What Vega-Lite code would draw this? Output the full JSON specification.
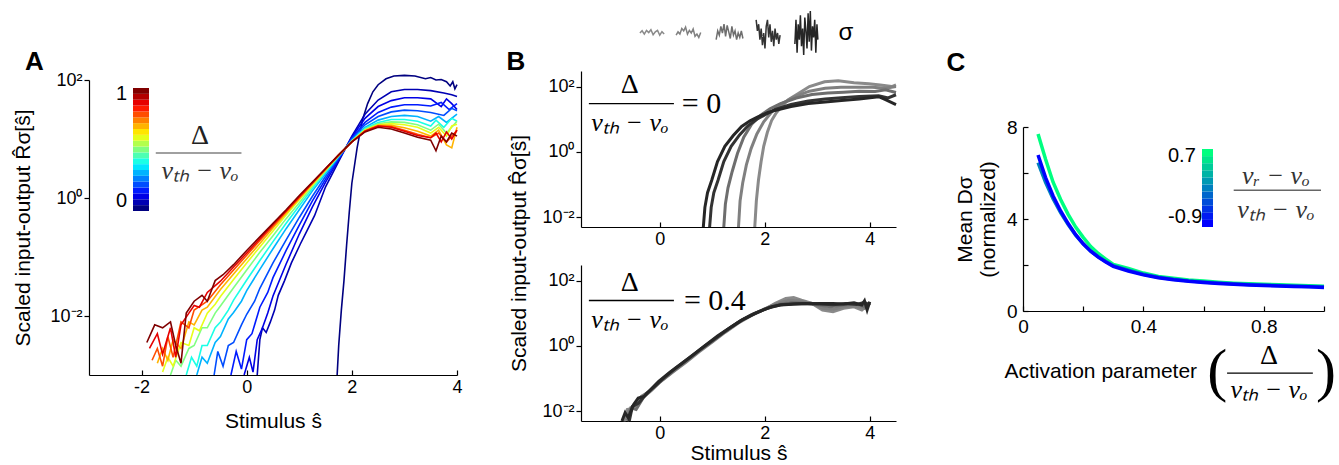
{
"$schema": "https://vega.github.io/schema/vega-lite/v6.json",
"padding": {"left": 12, "top": 8, "right": 0, "bottom": 0},
"background": "white",
"config": {
  "view": {"stroke": null},
  "font": "Liberation Sans",
  "axis": {"grid": false, "labelFlush": false, "domainColor": "#000", "tickColor": "#000", "labelColor": "#000", "titleColor": "#000", "labelFont": "Liberation Sans", "titleFont": "Liberation Sans", "labelFontSize": 18, "titleFontSize": 21, "titleFontWeight": "normal", "domainWidth": 1.2, "tickWidth": 1.2}
},
"spacing": 43,
"datasets": {
"a": [
{"d":0,"x":1.72,"y":0.001},{"d":0,"x":1.75,"y":0.00316},{"d":0,"x":1.8,"y":0.0126},{"d":0,"x":1.85,"y":0.0398},{"d":0,"x":1.9,"y":0.158},{"d":0,"x":1.95,"y":0.562},{"d":0,"x":2.0,"y":1.78},{"d":0,"x":2.1,"y":7.08},{"d":0,"x":2.2,"y":20.9},{"d":0,"x":2.3,"y":39.8},{"d":0,"x":2.4,"y":63.1},{"d":0,"x":2.5,"y":83.2},{"d":0,"x":2.65,"y":105},{"d":0,"x":2.8,"y":117},{"d":0,"x":3.0,"y":120},{"d":0,"x":3.2,"y":117},{"d":0,"x":3.4,"y":105},{"d":0,"x":3.5,"y":110},{"d":0,"x":3.6,"y":100},{"d":0,"x":3.7,"y":102},{"d":0,"x":3.8,"y":93.3},{"d":0,"x":3.87,"y":79.4},{"d":0,"x":3.92,"y":93.3},{"d":0,"x":3.96,"y":70.8},{"d":0,"x":4.0,"y":83.2},
{"d":0.05,"x":0.2,"y":0.001},{"d":0.05,"x":0.25,"y":0.00398},{"d":0.05,"x":0.3,"y":0.00631},{"d":0.05,"x":0.37,"y":0.00525},{"d":0.05,"x":0.45,"y":0.00794},{"d":0.05,"x":0.53,"y":0.0126},{"d":0.05,"x":0.6,"y":0.0224},{"d":0.05,"x":0.72,"y":0.0398},{"d":0.05,"x":0.85,"y":0.0794},{"d":0.05,"x":1.02,"y":0.166},{"d":0.05,"x":1.15,"y":0.282},{"d":0.05,"x":1.29,"y":0.501},{"d":0.05,"x":1.5,"y":1.55},{"d":0.05,"x":1.75,"y":4.17},{"d":0.05,"x":2.0,"y":11.2},{"d":0.05,"x":2.25,"y":26.3},{"d":0.05,"x":2.5,"y":45.7},{"d":0.05,"x":2.75,"y":63.1},{"d":0.05,"x":3.0,"y":69.2},{"d":0.05,"x":3.25,"y":69.2},{"d":0.05,"x":3.5,"y":66.1},{"d":0.05,"x":3.75,"y":60.3},{"d":0.05,"x":3.9,"y":56.2},{"d":0.05,"x":4.0,"y":52.5},
{"d":0.1,"x":-0.05,"y":0.001},{"d":0.1,"x":0.05,"y":0.002},{"d":0.1,"x":0.12,"y":0.00112},{"d":0.1,"x":0.2,"y":0.00398},{"d":0.1,"x":0.3,"y":0.00631},{"d":0.1,"x":0.4,"y":0.0112},{"d":0.1,"x":0.5,"y":0.0219},{"d":0.1,"x":0.75,"y":0.0759},{"d":0.1,"x":1.0,"y":0.245},{"d":0.1,"x":1.25,"y":0.708},{"d":0.1,"x":1.5,"y":1.86},{"d":0.1,"x":1.75,"y":4.47},{"d":0.1,"x":2.0,"y":10.7},{"d":0.1,"x":2.25,"y":22.4},{"d":0.1,"x":2.5,"y":35.5},{"d":0.1,"x":2.75,"y":44.7},{"d":0.1,"x":3.0,"y":50.1},{"d":0.1,"x":3.25,"y":50.1},{"d":0.1,"x":3.5,"y":47.9},{"d":0.1,"x":3.7,"y":35.5},{"d":0.1,"x":3.8,"y":47.9},{"d":0.1,"x":3.9,"y":39.8},{"d":0.1,"x":4.0,"y":31.6},
{"d":0.15,"x":-0.3,"y":0.001},{"d":0.15,"x":-0.2,"y":0.00251},{"d":0.15,"x":-0.1,"y":0.00126},{"d":0.15,"x":0,"y":0.00398},{"d":0.15,"x":0.1,"y":0.00501},{"d":0.15,"x":0.25,"y":0.0141},{"d":0.15,"x":0.4,"y":0.0251},{"d":0.15,"x":0.5,"y":0.0447},{"d":0.15,"x":0.75,"y":0.129},{"d":0.15,"x":1.0,"y":0.347},{"d":0.15,"x":1.25,"y":0.891},{"d":0.15,"x":1.5,"y":2.09},{"d":0.15,"x":1.75,"y":4.68},{"d":0.15,"x":2.0,"y":10.2},{"d":0.15,"x":2.25,"y":19.1},{"d":0.15,"x":2.5,"y":28.2},{"d":0.15,"x":2.75,"y":34.7},{"d":0.15,"x":3.0,"y":38.0},{"d":0.15,"x":3.25,"y":38.0},{"d":0.15,"x":3.5,"y":36.3},{"d":0.15,"x":3.7,"y":41.7},{"d":0.15,"x":3.85,"y":31.6},{"d":0.15,"x":4.0,"y":39.8},
{"d":0.2,"x":-0.62,"y":0.001},{"d":0.2,"x":-0.55,"y":0.00251},{"d":0.2,"x":-0.45,"y":0.00141},{"d":0.2,"x":-0.35,"y":0.00316},{"d":0.2,"x":-0.25,"y":0.00355},{"d":0.2,"x":-0.1,"y":0.00708},{"d":0.2,"x":0,"y":0.0107},{"d":0.2,"x":0.15,"y":0.0178},{"d":0.2,"x":0.25,"y":0.0295},{"d":0.2,"x":0.5,"y":0.0794},{"d":0.2,"x":0.75,"y":0.195},{"d":0.2,"x":1.0,"y":0.468},{"d":0.2,"x":1.25,"y":1.07},{"d":0.2,"x":1.5,"y":2.34},{"d":0.2,"x":1.75,"y":4.79},{"d":0.2,"x":2.0,"y":10},{"d":0.2,"x":2.25,"y":17.4},{"d":0.2,"x":2.5,"y":24.0},{"d":0.2,"x":2.75,"y":28.8},{"d":0.2,"x":3.0,"y":30.9},{"d":0.2,"x":3.25,"y":30.2},{"d":0.2,"x":3.5,"y":28.2},{"d":0.2,"x":3.75,"y":25.1},{"d":0.2,"x":3.9,"y":33.1},{"d":0.2,"x":4.0,"y":30.2},
{"d":0.3,"x":-0.95,"y":0.001},{"d":0.3,"x":-0.85,"y":0.002},{"d":0.3,"x":-0.75,"y":0.00158},{"d":0.3,"x":-0.6,"y":0.00355},{"d":0.3,"x":-0.5,"y":0.00447},{"d":0.3,"x":-0.35,"y":0.00891},{"d":0.3,"x":-0.25,"y":0.0115},{"d":0.3,"x":-0.1,"y":0.0178},{"d":0.3,"x":0,"y":0.0269},{"d":0.3,"x":0.25,"y":0.0617},{"d":0.3,"x":0.5,"y":0.138},{"d":0.3,"x":0.75,"y":0.302},{"d":0.3,"x":1.0,"y":0.631},{"d":0.3,"x":1.25,"y":1.32},{"d":0.3,"x":1.5,"y":2.57},{"d":0.3,"x":1.75,"y":5.01},{"d":0.3,"x":2.0,"y":9.55},{"d":0.3,"x":2.25,"y":15.8},{"d":0.3,"x":2.5,"y":20.9},{"d":0.3,"x":2.75,"y":24.0},{"d":0.3,"x":3.0,"y":25.1},{"d":0.3,"x":3.25,"y":24.0},{"d":0.3,"x":3.5,"y":20.0},{"d":0.3,"x":3.65,"y":24.0},{"d":0.3,"x":3.8,"y":19.1},{"d":0.3,"x":4.0,"y":26.3},
{"d":0.4,"x":-1.15,"y":0.001},{"d":0.4,"x":-1.05,"y":0.002},{"d":0.4,"x":-0.95,"y":0.00141},{"d":0.4,"x":-0.85,"y":0.00316},{"d":0.4,"x":-0.75,"y":0.00316},{"d":0.4,"x":-0.6,"y":0.00631},{"d":0.4,"x":-0.5,"y":0.00794},{"d":0.4,"x":-0.35,"y":0.0126},{"d":0.4,"x":-0.25,"y":0.0186},{"d":0.4,"x":0,"y":0.0407},{"d":0.4,"x":0.25,"y":0.0871},{"d":0.4,"x":0.5,"y":0.182},{"d":0.4,"x":0.75,"y":0.372},{"d":0.4,"x":1.0,"y":0.741},{"d":0.4,"x":1.25,"y":1.45},{"d":0.4,"x":1.5,"y":2.75},{"d":0.4,"x":1.75,"y":5.13},{"d":0.4,"x":2.0,"y":9.33},{"d":0.4,"x":2.25,"y":15.1},{"d":0.4,"x":2.5,"y":19.1},{"d":0.4,"x":2.75,"y":21.4},{"d":0.4,"x":3.0,"y":21.4},{"d":0.4,"x":3.25,"y":20.0},{"d":0.4,"x":3.5,"y":16.6},{"d":0.4,"x":3.6,"y":20.9},{"d":0.4,"x":3.75,"y":15.8},{"d":0.4,"x":3.9,"y":22.4},{"d":0.4,"x":4.0,"y":20.0},
{"d":0.5,"x":-1.45,"y":0.001},{"d":0.5,"x":-1.35,"y":0.00178},{"d":0.5,"x":-1.25,"y":0.00141},{"d":0.5,"x":-1.1,"y":0.00282},{"d":0.5,"x":-1.0,"y":0.00316},{"d":0.5,"x":-0.85,"y":0.00631},{"d":0.5,"x":-0.75,"y":0.00631},{"d":0.5,"x":-0.6,"y":0.0112},{"d":0.5,"x":-0.5,"y":0.0148},{"d":0.5,"x":-0.25,"y":0.0302},{"d":0.5,"x":0,"y":0.0603},{"d":0.5,"x":0.25,"y":0.12},{"d":0.5,"x":0.5,"y":0.229},{"d":0.5,"x":0.75,"y":0.447},{"d":0.5,"x":1.0,"y":0.832},{"d":0.5,"x":1.25,"y":1.58},{"d":0.5,"x":1.5,"y":2.88},{"d":0.5,"x":1.75,"y":5.25},{"d":0.5,"x":2.0,"y":9.12},{"d":0.5,"x":2.25,"y":14.5},{"d":0.5,"x":2.5,"y":18.2},{"d":0.5,"x":2.75,"y":19.5},{"d":0.5,"x":3.0,"y":19.1},{"d":0.5,"x":3.25,"y":17.4},{"d":0.5,"x":3.5,"y":14.1},{"d":0.5,"x":3.65,"y":17.8},{"d":0.5,"x":3.8,"y":12.6},{"d":0.5,"x":4.0,"y":20.0},
{"d":0.6,"x":-1.6,"y":0.00112},{"d":0.6,"x":-1.5,"y":0.002},{"d":0.6,"x":-1.4,"y":0.00141},{"d":0.6,"x":-1.25,"y":0.00355},{"d":0.6,"x":-1.1,"y":0.00316},{"d":0.6,"x":-1.0,"y":0.00631},{"d":0.6,"x":-0.9,"y":0.00562},{"d":0.6,"x":-0.75,"y":0.0112},{"d":0.6,"x":-0.6,"y":0.0158},{"d":0.6,"x":-0.5,"y":0.0214},{"d":0.6,"x":-0.25,"y":0.0417},{"d":0.6,"x":0,"y":0.0794},{"d":0.6,"x":0.25,"y":0.148},{"d":0.6,"x":0.5,"y":0.275},{"d":0.6,"x":0.75,"y":0.513},{"d":0.6,"x":1.0,"y":0.933},{"d":0.6,"x":1.25,"y":1.66},{"d":0.6,"x":1.5,"y":3.02},{"d":0.6,"x":1.75,"y":5.25},{"d":0.6,"x":2.0,"y":9.12},{"d":0.6,"x":2.25,"y":14.1},{"d":0.6,"x":2.5,"y":17.4},{"d":0.6,"x":2.75,"y":18.2},{"d":0.6,"x":3.0,"y":17.4},{"d":0.6,"x":3.25,"y":15.8},{"d":0.6,"x":3.5,"y":12.6},{"d":0.6,"x":3.65,"y":15.8},{"d":0.6,"x":3.8,"y":11.2},{"d":0.6,"x":3.9,"y":16.6},{"d":0.6,"x":4.0,"y":17.8},
{"d":0.7,"x":-1.7,"y":0.00158},{"d":0.7,"x":-1.6,"y":0.00282},{"d":0.7,"x":-1.5,"y":0.00178},{"d":0.7,"x":-1.4,"y":0.00398},{"d":0.7,"x":-1.25,"y":0.00282},{"d":0.7,"x":-1.1,"y":0.00794},{"d":0.7,"x":-1.0,"y":0.00708},{"d":0.7,"x":-0.85,"y":0.0126},{"d":0.7,"x":-0.75,"y":0.0141},{"d":0.7,"x":-0.5,"y":0.0282},{"d":0.7,"x":-0.25,"y":0.0513},{"d":0.7,"x":0,"y":0.0933},{"d":0.7,"x":0.25,"y":0.17},{"d":0.7,"x":0.5,"y":0.309},{"d":0.7,"x":0.75,"y":0.55},{"d":0.7,"x":1.0,"y":0.977},{"d":0.7,"x":1.25,"y":1.74},{"d":0.7,"x":1.5,"y":3.02},{"d":0.7,"x":1.75,"y":5.37},{"d":0.7,"x":2.0,"y":8.91},{"d":0.7,"x":2.25,"y":13.8},{"d":0.7,"x":2.5,"y":17.0},{"d":0.7,"x":2.75,"y":17.0},{"d":0.7,"x":3.0,"y":15.5},{"d":0.7,"x":3.25,"y":13.5},{"d":0.7,"x":3.5,"y":11.2},{"d":0.7,"x":3.65,"y":14.1},{"d":0.7,"x":3.8,"y":7.94},{"d":0.7,"x":3.9,"y":7.08},{"d":0.7,"x":4.0,"y":15.8},
{"d":0.8,"x":-1.8,"y":0.00178},{"d":0.8,"x":-1.7,"y":0.00282},{"d":0.8,"x":-1.6,"y":0.00141},{"d":0.8,"x":-1.5,"y":0.00447},{"d":0.8,"x":-1.4,"y":0.002},{"d":0.8,"x":-1.25,"y":0.00794},{"d":0.8,"x":-1.1,"y":0.00631},{"d":0.8,"x":-1.0,"y":0.0126},{"d":0.8,"x":-0.75,"y":0.0178},{"d":0.8,"x":-0.5,"y":0.0339},{"d":0.8,"x":-0.25,"y":0.0603},{"d":0.8,"x":0,"y":0.107},{"d":0.8,"x":0.25,"y":0.191},{"d":0.8,"x":0.5,"y":0.331},{"d":0.8,"x":0.75,"y":0.589},{"d":0.8,"x":1.0,"y":1.02},{"d":0.8,"x":1.25,"y":1.78},{"d":0.8,"x":1.5,"y":3.09},{"d":0.8,"x":1.75,"y":5.37},{"d":0.8,"x":2.0,"y":8.91},{"d":0.8,"x":2.25,"y":13.5},{"d":0.8,"x":2.5,"y":16.6},{"d":0.8,"x":2.75,"y":16.2},{"d":0.8,"x":3.0,"y":14.1},{"d":0.8,"x":3.25,"y":12.0},{"d":0.8,"x":3.5,"y":10.5},{"d":0.8,"x":3.65,"y":12.6},{"d":0.8,"x":3.8,"y":8.91},{"d":0.8,"x":4.0,"y":14.1},
{"d":0.9,"x":-1.85,"y":0.00282},{"d":0.9,"x":-1.7,"y":0.00501},{"d":0.9,"x":-1.6,"y":0.00224},{"d":0.9,"x":-1.45,"y":0.00631},{"d":0.9,"x":-1.35,"y":0.002},{"d":0.9,"x":-1.25,"y":0.00708},{"d":0.9,"x":-1.1,"y":0.0112},{"d":0.9,"x":-1.0,"y":0.0151},{"d":0.9,"x":-0.9,"y":0.0141},{"d":0.9,"x":-0.75,"y":0.0251},{"d":0.9,"x":-0.5,"y":0.0389},{"d":0.9,"x":-0.25,"y":0.0676},{"d":0.9,"x":0,"y":0.117},{"d":0.9,"x":0.25,"y":0.204},{"d":0.9,"x":0.5,"y":0.355},{"d":0.9,"x":0.75,"y":0.603},{"d":0.9,"x":1.0,"y":1.05},{"d":0.9,"x":1.25,"y":1.82},{"d":0.9,"x":1.5,"y":3.16},{"d":0.9,"x":1.75,"y":5.37},{"d":0.9,"x":2.0,"y":8.91},{"d":0.9,"x":2.25,"y":13.5},{"d":0.9,"x":2.5,"y":16.6},{"d":0.9,"x":2.75,"y":15.8},{"d":0.9,"x":3.0,"y":13.5},{"d":0.9,"x":3.25,"y":11.5},{"d":0.9,"x":3.5,"y":10.5},{"d":0.9,"x":3.6,"y":12.6},{"d":0.9,"x":3.7,"y":8.91},{"d":0.9,"x":3.8,"y":13.2},{"d":0.9,"x":3.9,"y":10.0},{"d":0.9,"x":4.0,"y":14.1},
{"d":1,"x":-1.9,"y":0.00355},{"d":1,"x":-1.75,"y":0.00708},{"d":1,"x":-1.6,"y":0.00631},{"d":1,"x":-1.45,"y":0.00794},{"d":1,"x":-1.35,"y":0.00316},{"d":1,"x":-1.25,"y":0.00158},{"d":1,"x":-1.15,"y":0.0112},{"d":1,"x":-1.0,"y":0.0178},{"d":1,"x":-0.85,"y":0.0224},{"d":1,"x":-0.75,"y":0.0178},{"d":1,"x":-0.6,"y":0.0398},{"d":1,"x":-0.45,"y":0.0501},{"d":1,"x":-0.25,"y":0.0741},{"d":1,"x":0,"y":0.129},{"d":1,"x":0.25,"y":0.219},{"d":1,"x":0.5,"y":0.372},{"d":1,"x":0.75,"y":0.631},{"d":1,"x":1.0,"y":1.1},{"d":1,"x":1.25,"y":1.86},{"d":1,"x":1.5,"y":3.16},{"d":1,"x":1.75,"y":5.37},{"d":1,"x":2.0,"y":8.91},{"d":1,"x":2.25,"y":13.2},{"d":1,"x":2.5,"y":15.8},{"d":1,"x":2.75,"y":14.8},{"d":1,"x":3.0,"y":12.6},{"d":1,"x":3.25,"y":10.7},{"d":1,"x":3.5,"y":9.55},{"d":1,"x":3.6,"y":6.31},{"d":1,"x":3.7,"y":11.2},{"d":1,"x":3.8,"y":8.91},{"d":1,"x":3.9,"y":12.6},{"d":1,"x":4.0,"y":11.2}
],
"bt": [
{"s":1,"x":1.81,"y":0.005},{"s":1,"x":1.84,"y":0.0316},{"s":1,"x":1.88,"y":0.135},{"s":1,"x":1.93,"y":0.501},{"s":1,"x":1.98,"y":1.48},{"s":1,"x":2.05,"y":3.98},{"s":1,"x":2.13,"y":9.12},{"s":1,"x":2.22,"y":15.8},{"s":1,"x":2.32,"y":24.5},{"s":1,"x":2.45,"y":39.8},{"s":1,"x":2.64,"y":61.7},{"s":1,"x":2.85,"y":100},{"s":1,"x":3.14,"y":141},{"s":1,"x":3.4,"y":151},{"s":1,"x":3.7,"y":132},{"s":1,"x":3.98,"y":123},{"s":1,"x":4.2,"y":112},{"s":1,"x":4.42,"y":100},{"s":1,"x":4.5,"y":112},
{"s":2,"x":1.5,"y":0.005},{"s":2,"x":1.53,"y":0.0316},{"s":2,"x":1.58,"y":0.112},{"s":2,"x":1.65,"y":0.398},{"s":2,"x":1.74,"y":1.26},{"s":2,"x":1.85,"y":3.55},{"s":2,"x":1.98,"y":8.32},{"s":2,"x":2.12,"y":15.8},{"s":2,"x":2.3,"y":28.2},{"s":2,"x":2.55,"y":47.9},{"s":2,"x":2.85,"y":72.4},{"s":2,"x":3.15,"y":89.1},{"s":2,"x":3.45,"y":95.5},{"s":2,"x":3.75,"y":95.5},{"s":2,"x":4.05,"y":95.5},{"s":2,"x":4.3,"y":89.1},{"s":2,"x":4.5,"y":100},
{"s":3,"x":1.22,"y":0.005},{"s":3,"x":1.25,"y":0.0251},{"s":3,"x":1.3,"y":0.0794},{"s":3,"x":1.38,"y":0.251},{"s":3,"x":1.48,"y":0.891},{"s":3,"x":1.6,"y":2.82},{"s":3,"x":1.75,"y":7.08},{"s":3,"x":1.92,"y":13.2},{"s":3,"x":2.1,"y":20.9},{"s":3,"x":2.3,"y":30.2},{"s":3,"x":2.6,"y":44.7},{"s":3,"x":2.9,"y":57.5},{"s":3,"x":3.2,"y":63.1},{"s":3,"x":3.5,"y":67.6},{"s":3,"x":3.8,"y":72.4},{"s":3,"x":4.1,"y":70.8},{"s":3,"x":4.3,"y":79.4},{"s":3,"x":4.5,"y":66.1},
{"s":4,"x":0.95,"y":0.005},{"s":4,"x":0.98,"y":0.02},{"s":4,"x":1.03,"y":0.0562},{"s":4,"x":1.11,"y":0.135},{"s":4,"x":1.22,"y":0.501},{"s":4,"x":1.36,"y":1.48},{"s":4,"x":1.52,"y":3.31},{"s":4,"x":1.68,"y":6.31},{"s":4,"x":1.85,"y":10},{"s":4,"x":2.0,"y":13.5},{"s":4,"x":2.2,"y":20},{"s":4,"x":2.5,"y":28.2},{"s":4,"x":2.83,"y":36.3},{"s":4,"x":3.15,"y":41.7},{"s":4,"x":3.46,"y":45.7},{"s":4,"x":3.8,"y":50.1},{"s":4,"x":4.17,"y":52.5},{"s":4,"x":4.35,"y":44.7},{"s":4,"x":4.5,"y":56.2},
{"s":5,"x":0.83,"y":0.005},{"s":5,"x":0.86,"y":0.02},{"s":5,"x":0.91,"y":0.0562},{"s":5,"x":0.99,"y":0.135},{"s":5,"x":1.1,"y":0.501},{"s":5,"x":1.24,"y":1.48},{"s":5,"x":1.4,"y":3.16},{"s":5,"x":1.56,"y":6.03},{"s":5,"x":1.72,"y":8.91},{"s":5,"x":1.88,"y":12.0},{"s":5,"x":2.05,"y":15.8},{"s":5,"x":2.19,"y":18.6},{"s":5,"x":2.5,"y":24.5},{"s":5,"x":2.83,"y":30.2},{"s":5,"x":3.15,"y":33.9},{"s":5,"x":3.46,"y":37.2},{"s":5,"x":3.8,"y":41.7},{"s":5,"x":4.17,"y":49.0},{"s":5,"x":4.3,"y":39.8},{"s":5,"x":4.5,"y":28.2}
],
"bb": [
{"s":1,"x":-0.7,"y":0.005},{"s":1,"x":-0.62,"y":0.0112},{"s":1,"x":-0.5,"y":0.0126},{"s":1,"x":-0.4,"y":0.02},{"s":1,"x":-0.2,"y":0.038},{"s":1,"x":0,"y":0.0759},{"s":1,"x":0.25,"y":0.158},{"s":1,"x":0.5,"y":0.316},{"s":1,"x":0.75,"y":0.661},{"s":1,"x":1.0,"y":1.32},{"s":1,"x":1.25,"y":2.63},{"s":1,"x":1.5,"y":5.01},{"s":1,"x":1.75,"y":8.51},{"s":1,"x":2.0,"y":13.2},{"s":1,"x":2.2,"y":20.0},{"s":1,"x":2.4,"y":28.2},{"s":1,"x":2.55,"y":30.2},{"s":1,"x":2.7,"y":25.1},{"s":1,"x":2.9,"y":20.0},{"s":1,"x":3.1,"y":12.6},{"s":1,"x":3.3,"y":11.2},{"s":1,"x":3.5,"y":14.1},{"s":1,"x":3.7,"y":15.8},{"s":1,"x":3.85,"y":12.6},{"s":1,"x":4.0,"y":20.0},
{"s":2,"x":-0.68,"y":0.005},{"s":2,"x":-0.6,"y":0.01},{"s":2,"x":-0.48,"y":0.0141},{"s":2,"x":-0.35,"y":0.0282},{"s":2,"x":-0.2,"y":0.0398},{"s":2,"x":0,"y":0.0794},{"s":2,"x":0.25,"y":0.162},{"s":2,"x":0.5,"y":0.331},{"s":2,"x":0.75,"y":0.692},{"s":2,"x":1.0,"y":1.38},{"s":2,"x":1.25,"y":2.75},{"s":2,"x":1.5,"y":5.25},{"s":2,"x":1.75,"y":8.91},{"s":2,"x":2.0,"y":13.5},{"s":2,"x":2.2,"y":19.1},{"s":2,"x":2.45,"y":25.1},{"s":2,"x":2.65,"y":24.0},{"s":2,"x":2.9,"y":20.0},{"s":2,"x":3.1,"y":14.1},{"s":2,"x":3.3,"y":13.2},{"s":2,"x":3.5,"y":15.8},{"s":2,"x":3.7,"y":16.6},{"s":2,"x":3.9,"y":14.1},{"s":2,"x":4.0,"y":20.0},
{"s":3,"x":-0.62,"y":0.005},{"s":3,"x":-0.55,"y":0.0126},{"s":3,"x":-0.45,"y":0.0112},{"s":3,"x":-0.3,"y":0.0282},{"s":3,"x":-0.15,"y":0.0447},{"s":3,"x":0,"y":0.0794},{"s":3,"x":0.25,"y":0.166},{"s":3,"x":0.5,"y":0.339},{"s":3,"x":0.75,"y":0.708},{"s":3,"x":1.0,"y":1.38},{"s":3,"x":1.25,"y":2.82},{"s":3,"x":1.5,"y":5.37},{"s":3,"x":1.75,"y":9.12},{"s":3,"x":2.0,"y":13.5},{"s":3,"x":2.25,"y":18.6},{"s":3,"x":2.5,"y":21.4},{"s":3,"x":2.75,"y":20.4},{"s":3,"x":3.0,"y":18.2},{"s":3,"x":3.25,"y":15.8},{"s":3,"x":3.5,"y":17.8},{"s":3,"x":3.75,"y":19.1},{"s":3,"x":3.9,"y":15.8},{"s":3,"x":4.0,"y":20.9},
{"s":4,"x":-0.58,"y":0.005},{"s":4,"x":-0.52,"y":0.0141},{"s":4,"x":-0.4,"y":0.0178},{"s":4,"x":-0.25,"y":0.0355},{"s":4,"x":-0.1,"y":0.0562},{"s":4,"x":0.1,"y":0.112},{"s":4,"x":0.3,"y":0.209},{"s":4,"x":0.55,"y":0.417},{"s":4,"x":0.8,"y":0.851},{"s":4,"x":1.05,"y":1.66},{"s":4,"x":1.3,"y":3.24},{"s":4,"x":1.55,"y":6.03},{"s":4,"x":1.8,"y":9.77},{"s":4,"x":2.05,"y":14.1},{"s":4,"x":2.3,"y":18.2},{"s":4,"x":2.55,"y":19.5},{"s":4,"x":2.8,"y":20.0},{"s":4,"x":3.05,"y":19.1},{"s":4,"x":3.3,"y":18.2},{"s":4,"x":3.55,"y":20.0},{"s":4,"x":3.75,"y":18.6},{"s":4,"x":3.9,"y":21.4},{"s":4,"x":4.0,"y":17.8},
{"s":5,"x":-0.72,"y":0.005},{"s":5,"x":-0.66,"y":0.00891},{"s":5,"x":-0.6,"y":0.00631},{"s":5,"x":-0.5,"y":0.0158},{"s":5,"x":-0.41,"y":0.0251},{"s":5,"x":-0.3,"y":0.0282},{"s":5,"x":-0.15,"y":0.0501},{"s":5,"x":-0.02,"y":0.0813},{"s":5,"x":0.2,"y":0.158},{"s":5,"x":0.42,"y":0.288},{"s":5,"x":0.65,"y":0.55},{"s":5,"x":0.86,"y":1.02},{"s":5,"x":1.1,"y":2.0},{"s":5,"x":1.37,"y":3.89},{"s":5,"x":1.6,"y":6.61},{"s":5,"x":1.81,"y":9.77},{"s":5,"x":2.0,"y":13.2},{"s":5,"x":2.13,"y":15.8},{"s":5,"x":2.3,"y":17.8},{"s":5,"x":2.45,"y":18.6},{"s":5,"x":2.7,"y":19.5},{"s":5,"x":3.08,"y":20.0},{"s":5,"x":3.3,"y":20.0},{"s":5,"x":3.5,"y":19.1},{"s":5,"x":3.7,"y":20.9},{"s":5,"x":3.85,"y":17.8},{"s":5,"x":3.9,"y":24.0},{"s":5,"x":3.95,"y":12.6},{"s":5,"x":4.0,"y":22.4}
],
"ic": [
{"t":1,"x":18.7,"y":0},{"t":1,"x":19.4,"y":0.1},{"t":1,"x":20.1,"y":-0.05},{"t":1,"x":20.8,"y":0.12},{"t":1,"x":21.5,"y":0.02},{"t":1,"x":22.2,"y":0.15},{"t":1,"x":22.9,"y":-0.08},{"t":1,"x":23.6,"y":0.05},{"t":1,"x":24.3,"y":0.12},{"t":1,"x":25.0,"y":-0.1},{"t":1,"x":25.7,"y":0.06},{"t":1,"x":26.4,"y":-0.05},
{"t":2,"x":30.2,"y":-0.1},{"t":2,"x":30.8,"y":0.05},{"t":2,"x":31.4,"y":-0.05},{"t":2,"x":32.0,"y":0.2},{"t":2,"x":32.6,"y":0.1},{"t":2,"x":33.2,"y":0.27},{"t":2,"x":33.8,"y":-0.05},{"t":2,"x":34.4,"y":0.12},{"t":2,"x":35.0,"y":0.0},{"t":2,"x":35.6,"y":0.18},{"t":2,"x":36.2,"y":-0.15},{"t":2,"x":36.8,"y":-0.05},{"t":2,"x":37.4,"y":-0.2},{"t":2,"x":38.0,"y":0.02},
{"t":3,"x":42.9,"y":-0.3},{"t":3,"x":43.4,"y":0.1},{"t":3,"x":43.9,"y":-0.1},{"t":3,"x":44.4,"y":0.3},{"t":3,"x":44.9,"y":0.0},{"t":3,"x":45.4,"y":0.4},{"t":3,"x":45.9,"y":-0.15},{"t":3,"x":46.4,"y":0.35},{"t":3,"x":46.9,"y":0.05},{"t":3,"x":47.4,"y":-0.25},{"t":3,"x":47.9,"y":0.3},{"t":3,"x":48.4,"y":-0.1},{"t":3,"x":48.9,"y":0.1},{"t":3,"x":49.4,"y":-0.3},{"t":3,"x":49.9,"y":0.0},{"t":3,"x":50.4,"y":-0.2},{"t":3,"x":50.9,"y":0.1},{"t":3,"x":51.4,"y":-0.25},
{"t":4,"x":55.6,"y":0.6},{"t":4,"x":56.0,"y":0.1},{"t":4,"x":56.4,"y":0.4},{"t":4,"x":56.8,"y":-0.3},{"t":4,"x":57.2,"y":0.2},{"t":4,"x":57.6,"y":-0.55},{"t":4,"x":58.0,"y":0.0},{"t":4,"x":58.4,"y":-0.7},{"t":4,"x":58.8,"y":0.3},{"t":4,"x":59.2,"y":0.6},{"t":4,"x":59.6,"y":-0.2},{"t":4,"x":60.0,"y":0.4},{"t":4,"x":60.4,"y":-0.4},{"t":4,"x":60.8,"y":0.1},{"t":4,"x":61.2,"y":-0.6},{"t":4,"x":61.6,"y":0.2},{"t":4,"x":62.0,"y":-0.3},{"t":4,"x":62.4,"y":0.0},{"t":4,"x":62.8,"y":-0.5},{"t":4,"x":63.2,"y":-0.1},
{"t":5,"x":67.9,"y":-0.5},{"t":5,"x":68.25,"y":0.6},{"t":5,"x":68.6,"y":-0.9},{"t":5,"x":68.95,"y":0.4},{"t":5,"x":69.3,"y":-0.3},{"t":5,"x":69.65,"y":0.8},{"t":5,"x":70.0,"y":-0.6},{"t":5,"x":70.35,"y":0.2},{"t":5,"x":70.7,"y":-1.0},{"t":5,"x":71.05,"y":0.7},{"t":5,"x":71.4,"y":0.1},{"t":5,"x":71.75,"y":-0.7},{"t":5,"x":72.1,"y":0.9},{"t":5,"x":72.45,"y":-0.4},{"t":5,"x":72.8,"y":1.0},{"t":5,"x":73.15,"y":-0.8},{"t":5,"x":73.5,"y":0.3},{"t":5,"x":73.85,"y":-0.2},{"t":5,"x":74.2,"y":0.6},{"t":5,"x":74.55,"y":-0.9},{"t":5,"x":74.9,"y":0.4},{"t":5,"x":75.2,"y":-0.3}
],
"c": [
{"v":0.7,"x":0.05,"y":7.7},{"v":0.7,"x":0.075,"y":6.6},{"v":0.7,"x":0.1,"y":5.6},{"v":0.7,"x":0.125,"y":4.85},{"v":0.7,"x":0.15,"y":4.2},{"v":0.7,"x":0.175,"y":3.65},{"v":0.7,"x":0.2,"y":3.2},{"v":0.7,"x":0.225,"y":2.8},{"v":0.7,"x":0.25,"y":2.5},{"v":0.7,"x":0.275,"y":2.25},{"v":0.7,"x":0.3,"y":2.02},{"v":0.7,"x":0.35,"y":1.85},{"v":0.7,"x":0.4,"y":1.65},{"v":0.7,"x":0.45,"y":1.5},{"v":0.7,"x":0.5,"y":1.42},{"v":0.7,"x":0.55,"y":1.35},{"v":0.7,"x":0.6,"y":1.3},{"v":0.7,"x":0.65,"y":1.25},{"v":0.7,"x":0.7,"y":1.21},{"v":0.7,"x":0.75,"y":1.18},{"v":0.7,"x":0.8,"y":1.16},{"v":0.7,"x":0.85,"y":1.14},{"v":0.7,"x":0.9,"y":1.12},{"v":0.7,"x":0.95,"y":1.1},{"v":0.7,"x":1.0,"y":1.08},
{"v":-0.1,"x":0.05,"y":6.45},{"v":-0.1,"x":0.075,"y":5.6},{"v":-0.1,"x":0.1,"y":4.88},{"v":-0.1,"x":0.125,"y":4.28},{"v":-0.1,"x":0.15,"y":3.76},{"v":-0.1,"x":0.175,"y":3.3},{"v":-0.1,"x":0.2,"y":2.92},{"v":-0.1,"x":0.225,"y":2.6},{"v":-0.1,"x":0.25,"y":2.36},{"v":-0.1,"x":0.275,"y":2.15},{"v":-0.1,"x":0.3,"y":1.97},{"v":-0.1,"x":0.35,"y":1.78},{"v":-0.1,"x":0.4,"y":1.6},{"v":-0.1,"x":0.45,"y":1.47},{"v":-0.1,"x":0.5,"y":1.38},{"v":-0.1,"x":0.55,"y":1.31},{"v":-0.1,"x":0.6,"y":1.26},{"v":-0.1,"x":0.65,"y":1.22},{"v":-0.1,"x":0.7,"y":1.18},{"v":-0.1,"x":0.75,"y":1.15},{"v":-0.1,"x":0.8,"y":1.13},{"v":-0.1,"x":0.85,"y":1.11},{"v":-0.1,"x":0.9,"y":1.09},{"v":-0.1,"x":0.95,"y":1.07},{"v":-0.1,"x":1.0,"y":1.05},
{"v":-0.9,"x":0.05,"y":6.78},{"v":-0.9,"x":0.075,"y":5.8},{"v":-0.9,"x":0.1,"y":5.0},{"v":-0.9,"x":0.125,"y":4.35},{"v":-0.9,"x":0.15,"y":3.8},{"v":-0.9,"x":0.175,"y":3.32},{"v":-0.9,"x":0.2,"y":2.92},{"v":-0.9,"x":0.225,"y":2.6},{"v":-0.9,"x":0.25,"y":2.34},{"v":-0.9,"x":0.275,"y":2.13},{"v":-0.9,"x":0.3,"y":1.94},{"v":-0.9,"x":0.35,"y":1.74},{"v":-0.9,"x":0.4,"y":1.57},{"v":-0.9,"x":0.45,"y":1.45},{"v":-0.9,"x":0.5,"y":1.36},{"v":-0.9,"x":0.55,"y":1.29},{"v":-0.9,"x":0.6,"y":1.24},{"v":-0.9,"x":0.65,"y":1.2},{"v":-0.9,"x":0.7,"y":1.16},{"v":-0.9,"x":0.75,"y":1.13},{"v":-0.9,"x":0.8,"y":1.11},{"v":-0.9,"x":0.85,"y":1.09},{"v":-0.9,"x":0.9,"y":1.07},{"v":-0.9,"x":0.95,"y":1.05},{"v":-0.9,"x":1.0,"y":1.02}
]
},
"hconcat": [
{"vconcat": [
  {"width": 368, "height": 31, "view": {"fill": "transparent", "stroke": null}, "data": {"values": [{"k": 0}]}, "mark": {"type": "point", "opacity": 0}},
  {"width": 368, "height": 295,
   "layer": [
    {"data": {"name": "a"}, "mark": {"type": "line", "strokeWidth": 1.6},
     "encoding": {
      "x": {"field": "x", "type": "quantitative", "scale": {"domain": [-3, 4], "nice": false, "zero": false},
        "axis": {"values": [-2, 0, 2, 4], "labelExpr": "'' + datum.value", "tickSize": -5, "labelPadding": 8, "title": "Stimulus ŝ", "titlePadding": 14}},
      "y": {"field": "y", "type": "quantitative", "scale": {"type": "log", "domain": [0.001, 100], "nice": false},
        "axis": {"values": [0.01, 1, 100], "labelExpr": "datum.value > 50 ? '10²' : datum.value > 0.5 ? '10⁰' : '10⁻²'", "tickSize": 5, "labelPadding": 2, "title": "Scaled input-output  R̂σ[ŝ]", "titlePadding": 16}},
      "color": {"field": "d", "type": "quantitative",
        "scale": {"type": "quantize", "domain": [-0.025, 1.025], "range": ["#000080","#0000b3","#0000e6","#001aff","#004dff","#0080ff","#00b3ff","#00e6ff","#1affe6","#4dffb3","#80ff80","#b3ff4d","#e6ff1a","#ffe600","#ffb300","#ff8000","#ff4d00","#ff1a00","#e60000","#b30000","#800000"]},
        "legend": {"type": "gradient", "orient": "none", "legendX": 44, "legendY": 77, "direction": "vertical", "gradientLength": 123, "gradientThickness": 16, "gradientStrokeWidth": 0, "title": null, "labelExpr": "datum.value < 0 ? '0' : datum.value > 0.97 ? '1' : ''", "labelOffset": -33, "labelBaseline": "middle", "labelFontSize": 20, "labelColor": "#000", "labelOverlap": false}},
      "detail": {"field": "d", "type": "nominal"}
     }},
    {"data": {"values": [{"k": 0}]}, "mark": {"type": "text", "text": "A", "fontSize": 26, "fontWeight": "bold", "font": "Liberation Sans", "baseline": "middle", "align": "center", "color": "#000"},
     "encoding": {"x": {"datum": -4.04}, "y": {"datum": 202}}},
    {"data": {"values": [{"k": 0}]}, "mark": {"type": "text", "text": "Δ", "fontSize": 28, "font": "Liberation Serif", "baseline": "middle", "align": "center", "color": "#222"},
     "encoding": {"x": {"datum": -0.89}, "y": {"datum": 11.2}}},
    {"data": {"values": [{"k": 0}]}, "mark": {"type": "rule", "color": "#808080", "strokeWidth": 1.6},
     "encoding": {"x": {"datum": -1.73}, "x2": {"datum": -0.1}, "y": {"datum": 5.8}}},
    {"data": {"values": [{"k": 0}]}, "mark": {"type": "text", "text": "vₜₕ − vₒ", "fontSize": 26, "font": "Liberation Serif", "fontStyle": "italic", "baseline": "middle", "align": "center", "color": "#333"},
     "encoding": {"x": {"datum": -0.89}, "y": {"datum": 2.9}}}
   ]}
 ], "bounds": "flush", "spacing": 38},
{"hconcat": [
  {"vconcat": [
    {"width": 315, "height": 22, "view": {"fill": "transparent", "stroke": null},
     "layer": [
      {"data": {"name": "ic"}, "mark": {"type": "line", "strokeWidth": 1.5},
       "encoding": {
        "x": {"field": "x", "type": "quantitative", "scale": {"domain": [0, 100], "nice": false, "zero": false}, "axis": null},
        "y": {"field": "y", "type": "quantitative", "scale": {"domain": [0, 1], "nice": false, "zero": false}, "axis": null},
        "color": {"field": "t", "type": "ordinal", "scale": {"domain": [1,2,3,4,5], "range": ["#8a8a8a", "#808080", "#6e6e6e", "#333333", "#262626"]}, "legend": null},
        "order": {"field": "x", "type": "quantitative"}
       }},
      {"data": {"values": [{"k": 0}]}, "mark": {"type": "text", "text": "σ", "fontSize": 24, "font": "Liberation Sans", "baseline": "middle", "align": "center", "color": "#000"},
       "encoding": {"x": {"datum": 84.1}, "y": {"datum": 0}}}
     ]},
    {"width": 315, "height": 156,
     "layer": [
      {"data": {"name": "bt"}, "mark": {"type": "line", "strokeWidth": 3},
       "encoding": {
        "x": {"field": "x", "type": "quantitative", "scale": {"domain": [-1.5, 4.5], "nice": false, "zero": false},
          "axis": {"values": [0, 2, 4], "labelExpr": "'' + datum.value", "tickSize": -5, "labelPadding": 8, "title": null}},
        "y": {"field": "y", "type": "quantitative", "scale": {"type": "log", "domain": [0.005, 300], "nice": false},
          "axis": {"values": [0.01, 1, 100], "labelExpr": "datum.value > 50 ? '10²' : datum.value > 0.5 ? '10⁰' : '10⁻²'", "tickSize": 5, "labelPadding": 2, "title": "Scaled input-output  R̂σ[ŝ]", "titlePadding": 12, "titleY": 182}},
        "color": {"field": "s", "type": "ordinal", "scale": {"domain": [1,2,3,4,5], "range": ["#b3b3b3", "#999999", "#777777", "#555555", "#333333"]}, "legend": null}
       }},
      {"data": {"values": [{"k": 0}]}, "mark": {"type": "text", "text": "B", "fontSize": 26, "fontWeight": "bold", "font": "Liberation Sans", "baseline": "middle", "align": "center", "color": "#000"},
       "encoding": {"x": {"datum": -2.74}, "y": {"datum": 585}}},
      {"data": {"values": [{"k": 0}]}, "mark": {"type": "text", "text": "Δ", "fontSize": 28, "font": "Liberation Serif", "baseline": "middle", "align": "center", "color": "#000"},
       "encoding": {"x": {"datum": -0.57}, "y": {"datum": 110}}},
      {"data": {"values": [{"k": 0}]}, "mark": {"type": "rule", "color": "#000", "strokeWidth": 1.3},
       "encoding": {"x": {"datum": -1.35}, "x2": {"datum": 0.27}, "y": {"datum": 30}}},
      {"data": {"values": [{"k": 0}]}, "mark": {"type": "text", "text": "vₜₕ − vₒ", "fontSize": 26, "font": "Liberation Serif", "fontStyle": "italic", "baseline": "middle", "align": "center", "color": "#000"},
       "encoding": {"x": {"datum": -0.57}, "y": {"datum": 7.9}}},
      {"data": {"values": [{"k": 0}]}, "mark": {"type": "text", "text": "= 0", "fontSize": 30, "font": "Liberation Serif", "baseline": "middle", "align": "left", "color": "#000"},
       "encoding": {"x": {"datum": 0.42}, "y": {"datum": 30}}}
     ]},
    {"width": 315, "height": 156,
     "layer": [
      {"data": {"name": "bb"}, "mark": {"type": "line", "strokeWidth": 3},
       "encoding": {
        "x": {"field": "x", "type": "quantitative", "scale": {"domain": [-1.5, 4.5], "nice": false, "zero": false},
          "axis": {"values": [0, 2, 4], "labelExpr": "'' + datum.value", "tickSize": -5, "labelPadding": 8, "title": "Stimulus ŝ", "titlePadding": 0}},
        "y": {"field": "y", "type": "quantitative", "scale": {"type": "log", "domain": [0.005, 300], "nice": false},
          "axis": {"values": [0.01, 1, 100], "labelExpr": "datum.value > 50 ? '10²' : datum.value > 0.5 ? '10⁰' : '10⁻²'", "tickSize": 5, "labelPadding": 2, "title": null}},
        "color": {"field": "s", "type": "ordinal", "scale": {"domain": [1,2,3,4,5], "range": ["#b3b3b3", "#999999", "#777777", "#555555", "#333333"]}, "legend": null}
       }},
      {"data": {"values": [{"k": 0}]}, "mark": {"type": "text", "text": "Δ", "fontSize": 28, "font": "Liberation Serif", "baseline": "middle", "align": "center", "color": "#000"},
       "encoding": {"x": {"datum": -0.57}, "y": {"datum": 87}}},
      {"data": {"values": [{"k": 0}]}, "mark": {"type": "rule", "color": "#000", "strokeWidth": 1.3},
       "encoding": {"x": {"datum": -1.35}, "x2": {"datum": 0.27}, "y": {"datum": 24.5}}},
      {"data": {"values": [{"k": 0}]}, "mark": {"type": "text", "text": "vₜₕ − vₒ", "fontSize": 26, "font": "Liberation Serif", "fontStyle": "italic", "baseline": "middle", "align": "center", "color": "#000"},
       "encoding": {"x": {"datum": -0.57}, "y": {"datum": 6.0}}},
      {"data": {"values": [{"k": 0}]}, "mark": {"type": "text", "text": "= 0.4", "fontSize": 30, "font": "Liberation Serif", "baseline": "middle", "align": "left", "color": "#000"},
       "encoding": {"x": {"datum": 0.46}, "y": {"datum": 24.5}}}
     ]}
  ], "bounds": "flush", "spacing": 38},
  {"vconcat": [
    {"width": 301, "height": 78, "view": {"fill": "transparent", "stroke": null}, "data": {"values": [{"k": 0}]}, "mark": {"type": "point", "opacity": 0}},
    {"width": 301, "height": 184,
     "layer": [
      {"data": {"name": "c"}, "mark": {"type": "line", "strokeWidth": 3.5},
       "encoding": {
        "x": {"field": "x", "type": "quantitative", "scale": {"domain": [0, 1], "nice": false, "zero": false},
          "axis": {"values": [0, 0.2, 0.4, 0.6, 0.8, 1], "labelExpr": "datum.value == 0 ? '0' : datum.value == 0.4 ? '0.4' : datum.value == 0.8 ? '0.8' : ''", "tickSize": -5, "labelPadding": 11, "labelFontSize": 19, "title": "Activation parameter", "titleAnchor": "start", "titleAlign": "left", "titleX": -19, "titleY": 60, "titleBaseline": "middle"}},
        "y": {"field": "y", "type": "quantitative", "scale": {"domain": [0, 8], "nice": false},
          "axis": {"values": [0, 2, 4, 6, 8], "labelExpr": "datum.value % 4 == 0 ? '' + datum.value : ''", "tickSize": -5, "labelPadding": 11, "labelFontSize": 19, "title": ["Mean Dσ", "(normalized)"], "titleLineHeight": 23, "titlePadding": 8}},
        "color": {"field": "v", "type": "quantitative",
          "scale": {"type": "quantize", "domain": [-0.98, 0.78], "range": ["#0000ff","#001af2","#0033e6","#004dd9","#0066cc","#0080bf","#0099b3","#00b3a6","#00cc99","#00e68c","#00ff80"]},
          "legend": {"type": "gradient", "orient": "none", "legendX": 179, "legendY": 138, "direction": "vertical", "gradientLength": 78, "gradientThickness": 11, "gradientStrokeWidth": 0, "title": null, "labelExpr": "datum.value < -0.95 ? '-0.9' : datum.value > 0.6 ? '0.7' : ''", "labelOffset": -45, "labelBaseline": "middle", "labelFontSize": 20, "labelColor": "#000", "labelOverlap": false}},
        "detail": {"field": "v", "type": "nominal"}
       }},
      {"data": {"values": [{"k": 0}]}, "mark": {"type": "text", "text": "C", "fontSize": 26, "fontWeight": "bold", "font": "Liberation Sans", "baseline": "middle", "align": "center", "color": "#000"},
       "encoding": {"x": {"datum": -0.223}, "y": {"datum": 10.78}}},
      {"data": {"values": [{"k": 0}]}, "mark": {"type": "text", "text": "vᵣ − vₒ", "fontSize": 26, "font": "Liberation Serif", "fontStyle": "italic", "baseline": "middle", "align": "center", "color": "#333"},
       "encoding": {"x": {"datum": 0.84}, "y": {"datum": 5.85}}},
      {"data": {"values": [{"k": 0}]}, "mark": {"type": "rule", "color": "#666", "strokeWidth": 1.4},
       "encoding": {"x": {"datum": 0.7}, "x2": {"datum": 0.99}, "y": {"datum": 5.25}}},
      {"data": {"values": [{"k": 0}]}, "mark": {"type": "text", "text": "vₜₕ − vₒ", "fontSize": 26, "font": "Liberation Serif", "fontStyle": "italic", "baseline": "middle", "align": "center", "color": "#333"},
       "encoding": {"x": {"datum": 0.84}, "y": {"datum": 4.4}}},
      {"data": {"values": [{"k": 0}]}, "mark": {"type": "text", "text": "(", "fontSize": 60, "font": "Liberation Serif", "baseline": "middle", "align": "center", "color": "#000"},
       "encoding": {"x": {"datum": 0.645}, "y": {"datum": -2.65}}},
      {"data": {"values": [{"k": 0}]}, "mark": {"type": "text", "text": ")", "fontSize": 60, "font": "Liberation Serif", "baseline": "middle", "align": "center", "color": "#000"},
       "encoding": {"x": {"datum": 1.007}, "y": {"datum": -2.65}}},
      {"data": {"values": [{"k": 0}]}, "mark": {"type": "text", "text": "Δ", "fontSize": 28, "font": "Liberation Serif", "baseline": "middle", "align": "center", "color": "#000"},
       "encoding": {"x": {"datum": 0.817}, "y": {"datum": -1.96}}},
      {"data": {"values": [{"k": 0}]}, "mark": {"type": "rule", "color": "#000", "strokeWidth": 1.3},
       "encoding": {"x": {"datum": 0.678}, "x2": {"datum": 0.963}, "y": {"datum": -2.7}}},
      {"data": {"values": [{"k": 0}]}, "mark": {"type": "text", "text": "vₜₕ − vₒ", "fontSize": 26, "font": "Liberation Serif", "fontStyle": "italic", "baseline": "middle", "align": "center", "color": "#000"},
       "encoding": {"x": {"datum": 0.817}, "y": {"datum": -3.45}}}
     ]}
  ], "bounds": "flush", "spacing": 38}
 ], "spacing": 44}
]
}
